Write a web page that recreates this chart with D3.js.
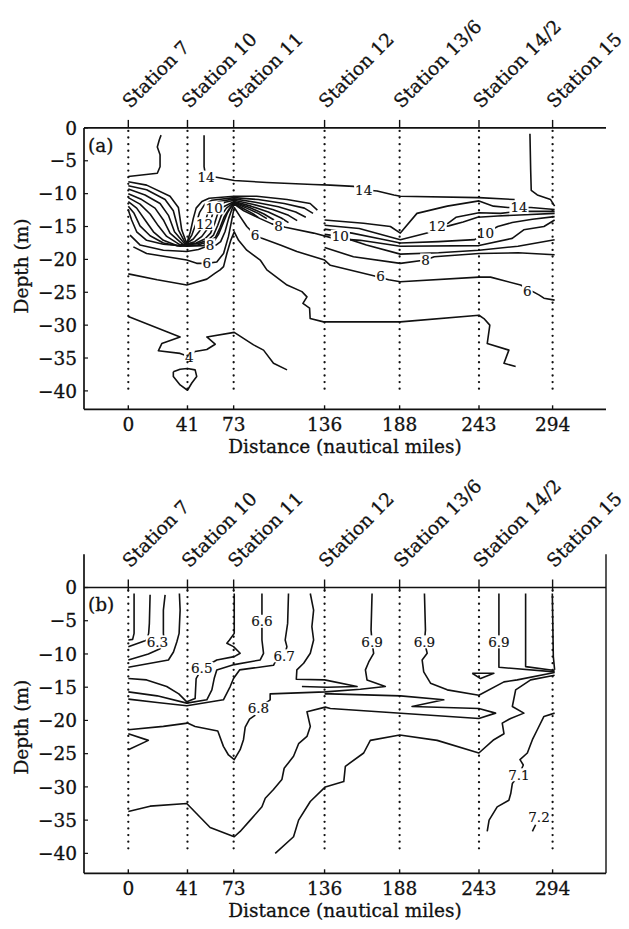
<!DOCTYPE html>
<html lang="en">
<head>
<meta charset="utf-8">
<script src="https://d3js.org/d3.v7.min.js"></script>
<title>Temperature and pH sections</title>
<style>
  body { margin: 0; background: #fff; }
  svg text { font-family: "DejaVu Serif", "Liberation Serif", serif; fill: #111; stroke: #111; stroke-width: 0.3px; }
</style>
</head>
<body>
<div id="container"></div>
<script>
// stations along the transect
var stationNames = ["Station 7", "Station 10", "Station 11", "Station 12", "Station 13/6", "Station 14/2", "Station 15"];
var stationMiles = [0, 41, 73, 136, 188, 243, 294];
var depthTicks = [0, -5, -10, -15, -20, -25, -30, -35, -40];

// ---- panel (a): temperature contours, [distance, depth] ----
var a_top = [[22.7,-1.1],[21.5,-1.8],[20.1,-2.9],[22,-4.1],[22,-5.9],[20.1,-6.9],[0,-7.4]];
var a_14 = [[52.5,-1.1],[52.5,-5.9],[53.5,-7.2],[61,-7.5],[73.4,-8.0],[96,-8.3],[128,-8.6],[140,-8.7],[156.2,-8.9],[163,-9.4],[172.4,-9.6],[184,-10.2],[188.5,-10.4],[242.9,-10.6],[267.7,-10.9]];
var a_14r = [[278.3,-0.9],[278.8,-6.4],[279.2,-9.5],[283.4,-10.2],[292.6,-10.9],[295.4,-11.9]];
var a_w1 = [[0,-8.2],[12.7,-8.7],[28.9,-10.4],[34.7,-12.1],[37,-15.5],[40.5,-17.6],[43,-15.8],[45,-13.8],[47,-12.2],[51,-11.2],[56,-10.7],[73.4,-10.4],[89,-10.4],[110,-10.9],[126,-11.5],[131,-12.5]];
var a_w2 = [[0,-8.8],[12.7,-9.4],[25.5,-10.9],[31.2,-12.6],[34.7,-15.5],[40,-17.7],[44,-16.3],[47,-14.5],[49.5,-12.8],[53,-11.6],[58,-11.0],[73.4,-10.6],[90,-10.9],[108,-11.5],[122,-12.2],[128,-13.0]];
var a_w3 = [[0,-9.3],[11.6,-10.2],[22,-11.5],[27.8,-13.3],[32,-15.8],[39.3,-17.7],[45,-16.9],[49,-15.8],[53.2,-14.4],[55,-13.0],[58,-11.9],[63,-11.2],[73.4,-10.8],[88,-11.3],[104,-12.0],[116,-12.8],[123,-13.6]];
var a_w4 = [[0,-10.0],[9.3,-10.9],[18.5,-12.2],[24.3,-14.0],[28.9,-16.0],[38.2,-17.8],[46,-17.3],[51,-16.5],[55,-15.3],[57.5,-13.8],[59,-12.6],[62,-11.8],[67,-11.3],[73.4,-11.0],[86,-11.6],[100,-12.4],[111,-13.3],[117,-14.1]];
var a_w5 = [[0,-10.6],[8.1,-11.6],[15.1,-13.1],[20.8,-14.9],[26.6,-16.5],[35.9,-17.8],[47,-17.5],[53,-16.9],[57,-16.0],[60,-14.4],[62,-13.0],[66,-12.0],[73.4,-11.2],[85,-11.9],[97,-12.8],[106,-13.7],[111,-14.4]];
var a_w6 = [[0,-11.2],[5.8,-12.2],[11.6,-14.0],[17.4,-15.8],[24.3,-17.1],[33.6,-17.9],[48,-17.6],[55,-17.1],[59,-16.3],[62,-14.8],[64.5,-13.3],[68,-12.2],[73.4,-11.3],[84,-12.1],[94,-13.1],[101,-14.0]];
var a_w7 = [[0,-11.9],[4,-13.0],[8.1,-14.9],[15.1,-16.4],[24.3,-17.5],[35.9,-18.0],[48,-17.8],[56,-17.3],[60.5,-16.6],[63.5,-15.2],[66.5,-13.5],[70,-12.3],[73.4,-11.4],[82,-12.2],[90,-13.0],[96,-13.8]];
var a_w8 = [[0,-12.5],[2.3,-14.0],[5.8,-15.8],[12.7,-17.1],[24.3,-17.7],[40.5,-18.0],[52,-17.9],[59.5,-17.2],[62.5,-16.2],[65.5,-14.6],[68.5,-13.0],[71,-12.1],[73.4,-11.5],[80,-12.3],[86,-13.0],[90,-13.6]];
var a_8 = [[1.2,-16.3],[8.1,-17.8],[24.3,-18.6],[40.5,-18.8],[48.6,-18.5],[56.7,-17.8],[61,-17.8],[64,-17.3],[67,-15.8],[69.5,-13.8],[71.7,-12.4],[73.4,-11.6],[80,-12.6],[91.4,-13.8],[99.5,-14.6],[108.8,-15.1],[128.4,-16.0],[142.3,-16.8],[160.8,-17.1],[188.5,-18.0],[243,-17.9],[266,-16.8],[274,-15.5],[288,-15.0],[295.4,-14.0]];
var a_6 = [[3.5,-18.1],[12.7,-19.1],[40.5,-20.1],[47.4,-20.6],[54.4,-20.6],[61.3,-20.4],[66,-19.1],[69.4,-16.5],[71.7,-14.0],[73.4,-12.1],[77.5,-13.5],[82.1,-15.0],[87.9,-16.3],[92.6,-16.8],[105.3,-17.8],[116.8,-18.8],[136,-20.1],[140,-20.9],[170,-22.5],[180.4,-23.1],[188.5,-23.4],[243,-22.7],[251,-22.7],[271.8,-23.9],[284.5,-25.4],[288,-25.9],[295.4,-26.2]];
var a_5 = [[0,-22.2],[20,-23.1],[40.5,-23.9],[54.4,-23.0],[60.2,-22.1],[63.6,-21.6],[66,-21.1],[68.3,-19.1],[71,-17.1],[73.4,-15.8],[76.4,-17.1],[82.1,-18.6],[91.4,-20.1],[96,-21.6],[110,-23.9],[120.3,-24.9],[123.8,-25.7],[121,-26.7],[125.6,-27.4],[126,-29.0],[135.3,-29.5],[160.8,-29.5],[188.5,-29.5],[243,-28.5],[246.4,-29.0],[250.5,-30.0],[248.7,-32.8],[263.7,-33.8],[260.3,-35.8],[268.4,-36.3]];
var a_4 = [[0,-28.7],[35.9,-31.8],[23.2,-32.8],[20.8,-33.9],[35.9,-34.3],[42.3,-34.8],[46.3,-34.0],[54.4,-33.7],[60.2,-32.9],[54.4,-31.8],[73.4,-31.1],[86.8,-33.0],[93.7,-33.8],[100.6,-35.8],[110,-36.8]];
var a_4loop = [[31.2,-37.1],[35.9,-36.7],[40.9,-36.6],[46.3,-36.8],[47.4,-37.8],[44,-38.8],[41,-39.9],[35.9,-39.1],[31.2,-37.8],[31.2,-37.1]];
var a_r1 = [[136,-14.0],[163,-14.5],[181.6,-15.0],[188.5,-16.0],[200,-13.0],[221,-11.9],[243,-11.1],[253,-11.9],[263,-12.1],[279,-12.1],[295.4,-12.4]];
var a_r2 = [[221,-14.6],[227,-13.6],[243,-12.9],[258,-13.0],[270,-12.7],[295.4,-12.7]];
var a_r3 = [[136,-14.8],[160,-15.3],[188.5,-17.0],[207,-16.0],[214,-15.2],[222,-14.9],[232,-14.3],[242,-13.6],[256,-13.4],[275,-13.2],[295.4,-13.0]];
var a_r4 = [[136,-15.4],[155,-16.0],[175,-16.9],[188.5,-17.5],[215,-17.3],[240,-17.0],[247.5,-16.0],[256,-15.0],[266,-14.4],[280,-13.9],[295.4,-13.5]];
var a_r6 = [[136,-16.2],[146.9,-16.5],[165,-17.8],[188.5,-19.2],[215,-19.0],[243,-18.6],[270,-18.0],[295.4,-17.0]];
var a_r7 = [[136,-18.2],[156,-19.6],[188.5,-20.6],[205.9,-20.1],[212,-19.6],[243,-19.1],[270,-19.0],[295.4,-19.3]];
var linesA = [a_top, a_14, a_14r, a_w1, a_w2, a_w3, a_w4, a_w5, a_w6, a_w7, a_w8, a_8, a_6, a_5, a_4, a_4loop, a_r1, a_r2, a_r3, a_r4, a_r6, a_r7];
var labelsA = [["14",53.9,-7.5],["14",163.1,-9.4],["14",270.7,-12.1],["10",59.5,-12.2],["12",52.8,-14.6],["8",56.7,-17.8],["6",54.4,-20.6],["6",87.9,-16.3],["8",104.1,-15.0],["10",146.9,-16.5],["12",214,-15.0],["10",247.5,-16.0],["8",205.9,-20.1],["6",174.7,-22.6],["6",276.5,-24.9],["4",42.3,-34.8]];

// ---- panel (b): pH contours, [distance, depth] ----
var b_1 = [[4,-0.9],[4,-6.9],[3.0,-7.8],[0,-7.9]];
var b_2 = [[15.1,-1.1],[14.6,-5.4],[14.1,-6.9],[12.7,-7.9],[11.6,-8.0],[0,-8.9]];
var b_3 = [[25.5,-1.1],[24.3,-3.4],[24.3,-6.9],[24.8,-8.0],[22,-9.2],[13.9,-10.0],[0,-10.9]];
var b_4 = [[35.4,-0.9],[35.9,-3.4],[35.2,-6.9],[33.6,-8.2],[31.3,-9.7],[27.8,-10.9],[0,-12.0]];
var b_65 = [[0,-13.7],[12.7,-13.9],[26.6,-14.9],[35,-16.0],[40.5,-17.2],[46.3,-16.7],[47,-13.7],[50.9,-12.2],[61.3,-10.9],[73.4,-10.4],[77.5,-9.9],[72.9,-8.9],[68.3,-8.4],[70.1,-7.9],[73.4,-6.9],[73.4,-0.9]];
var b_66 = [[0,-15.7],[20,-16.3],[40.5,-17.4],[54.4,-16.9],[57.9,-15.4],[59.5,-13.7],[61.3,-12.4],[73.4,-11.6],[91.4,-10.9],[93.7,-9.9],[92.6,-7.9],[92.6,-6.4],[92.6,-3.4],[92.6,-0.9]];
var b_67 = [[0,-16.8],[20,-17.3],[40.5,-17.8],[65.9,-16.9],[70.6,-14.9],[72.9,-13.7],[77.1,-12.4],[100.6,-11.7],[101.8,-11.2],[108,-10.3],[109.9,-8.9],[108.7,-7.9],[110.4,-5.4],[111,-0.9]];
var b_68a = [[126.1,-0.9],[128.4,-3.4],[127.2,-5.9],[128.4,-7.9],[126.1,-9.9],[121.5,-11.4],[116.8,-12.4],[116.4,-13.8],[136,-13.9],[158.5,-14.9],[137.7,-15.0],[120.3,-14.9]];
var b_68b = [[90.2,-18.2],[98.3,-16.9],[98.3,-16.0],[136.5,-15.7],[160.8,-15.3],[178.1,-14.9],[165.4,-13.9],[164.3,-12.4],[166.6,-11.2],[170,-9.9],[168.9,-8.2],[168.2,-6.4],[168.9,-0.9]];
var b_68c = [[0,-21.4],[24.3,-20.9],[41,-20.4],[46.3,-20.9],[62,-21.6],[65.9,-23.9],[69.4,-25.2],[73.4,-25.9],[77.5,-24.4],[79.8,-22.9],[81,-21.0],[84,-19.8],[88,-19.2]];
var b_spike = [[0,-22.0],[13.9,-23.0],[0,-24.4]];
var b_70 = [[0,-33.7],[15.1,-32.9],[40.5,-32.5],[56.7,-36.1],[73.4,-37.5],[77.5,-36.7],[84.5,-35.0],[92.6,-33.0],[94.9,-31.7],[100.6,-30.4],[106.4,-28.9],[108,-27.2],[114.5,-25.4],[118,-23.5],[123.8,-22.4],[126.1,-20.9],[123.8,-18.7],[136.5,-18.0],[140,-18.2],[242.9,-19.7],[254.5,-18.9],[242.9,-18.2],[196.6,-17.9],[218.6,-16.9],[188.6,-16.3],[140,-16.0],[136,-16.0]];
var b_69a = [[205.2,-0.9],[205.9,-6.4],[205.2,-8.2],[207.1,-9.9],[203.6,-10.9],[204.7,-12.7],[209.4,-14.4],[221,-15.4],[242.9,-16.2],[260.3,-14.2],[269.5,-13.9],[295.4,-12.8]];
var b_69b = [[256.8,-0.9],[256.8,-6.4],[256.8,-8.2],[256.8,-9.9],[256.8,-12.0],[295.4,-12.7]];
var b_69c = [[275.3,-0.9],[275.3,-11.9],[295.4,-12.5]];
var b_69d = [[293.8,-0.9],[294.5,-10.4],[295.4,-12.4]];
var b_tri = [[238.3,-12.9],[253.3,-12.9],[244.1,-13.7],[238.3,-12.9]];
var b_deep = [[101.8,-40.0],[114.5,-37.5],[118,-35.0],[126.1,-32.2],[136.5,-30.0],[149.3,-29.2],[150.4,-26.9],[163.1,-24.9],[167.7,-23.0],[188.1,-22.2],[214,-23.0],[242.9,-24.9],[253.3,-22.9],[260.3,-22.0],[259.1,-20.4],[264.9,-19.7],[274.1,-18.9],[266.1,-17.9],[268.4,-15.4],[278.8,-13.9],[295.4,-13.2]];
var b_71 = [[295.4,-18.9],[288,-19.4],[283.4,-21.4],[280,-22.9],[276.5,-24.9],[271.4,-25.9],[273.7,-26.7],[270.7,-28.2],[266.1,-29.5],[265,-31.0],[263.7,-32.0],[255.6,-33.0],[250,-35.0],[248.7,-36.7]];
var b_72 = [[280,-36.7],[282.2,-35.7]];
var linesB = [b_1, b_2, b_3, b_4, b_65, b_66, b_67, b_68a, b_68b, b_68c, b_spike, b_70, b_69a, b_69b, b_69c, b_69d, b_tri, b_deep, b_71, b_72];
var labelsB = [["6.3",20.2,-8.2],["6.5",50.9,-12.2],["6.6",92.6,-5.1],["6.7",108,-10.3],["6.8",90.2,-18.2],["6.9",168.9,-8.2],["6.9",205.2,-8.2],["6.9",256.8,-8.2],["7.1",270.7,-28.2],["7.2",284.6,-34.5]];

var W = 629, H = 929;
var svg = d3.select("#container").append("svg")
    .attr("width", W).attr("height", H);

var x = d3.scaleLinear().domain([-30.7, 331]).range([84, 606]);

function drawPanel(opt) {
    var y = d3.scaleLinear().domain([0, opt.bottom]).range([opt.y0, opt.y1]);
    var g = svg.append("g");
    var left = x.range()[0], right = x.range()[1];

    // contour lines
    var line = d3.line().x(function(d) { return x(d[0]); }).y(function(d) { return y(d[1]); });
    g.selectAll(".ct").data(opt.lines).enter().append("path")
        .attr("d", line)
        .attr("fill", "none").attr("stroke", "#111")
        .attr("stroke-width", 1.6).attr("stroke-linejoin", "round");

    // contour labels with white gaps
    var lab = g.selectAll(".lab").data(opt.labels).enter().append("g");
    lab.append("rect");
    lab.append("text")
        .attr("x", function(d) { return x(d[1]); })
        .attr("y", function(d) { return y(d[2]); })
        .attr("dy", "0.36em")
        .attr("text-anchor", "middle")
        .style("font-size", "13.5px")
        .style("stroke-width", "0.15px")
        .text(function(d) { return d[0]; });
    lab.each(function() {
        var t = d3.select(this).select("text").node().getBBox();
        d3.select(this).select("rect")
            .attr("x", t.x - 1).attr("y", t.y + 1.5)
            .attr("width", t.width + 2).attr("height", t.height - 3)
            .attr("fill", "#fff");
    });

    // dotted station lines
    g.selectAll(".st").data(stationMiles).enter().append("line")
        .attr("x1", function(d) { return x(d); }).attr("x2", function(d) { return x(d); })
        .attr("y1", y(0) + 3).attr("y2", y(-40))
        .attr("stroke", "#111").attr("stroke-width", 2.3)
        .attr("stroke-linecap", "round").attr("stroke-dasharray", "0.01 6.6");

    // frame: zero line, left axis, bottom axis
    g.append("line").attr("x1", left).attr("x2", right).attr("y1", y(0)).attr("y2", y(0))
        .attr("stroke", "#111").attr("stroke-width", 1.7);
    g.append("line").attr("x1", left).attr("x2", left).attr("y1", y(opt.top)).attr("y2", y(opt.bottom))
        .attr("stroke", "#111").attr("stroke-width", 1.7);
    g.append("line").attr("x1", left).attr("x2", right).attr("y1", y(opt.bottom)).attr("y2", y(opt.bottom))
        .attr("stroke", "#111").attr("stroke-width", 1.7);
    if (opt.rightLine) {
        g.append("line").attr("x1", right).attr("x2", right).attr("y1", y(opt.top)).attr("y2", y(opt.bottom))
            .attr("stroke", "#111").attr("stroke-width", 1.4);
    }

    // y axis ticks and labels
    g.selectAll(".yt").data(depthTicks).enter().append("line")
        .attr("x1", left).attr("x2", left + 4)
        .attr("y1", function(d) { return y(d); }).attr("y2", function(d) { return y(d); })
        .attr("stroke", "#111").attr("stroke-width", 1.2);
    g.selectAll(".yl").data(depthTicks).enter().append("text")
        .attr("x", left - 7).attr("y", function(d) { return y(d); })
        .attr("dy", "0.36em").attr("text-anchor", "end")
        .style("font-size", "18.5px")
        .text(function(d) { return d === 0 ? "0" : "\u2212" + Math.abs(d); });

    // station ticks on zero line and bottom
    g.selectAll(".tt").data(stationMiles).enter().append("line")
        .attr("x1", function(d) { return x(d); }).attr("x2", function(d) { return x(d); })
        .attr("y1", y(0) - 8).attr("y2", y(0) + opt.tickDown)
        .attr("stroke", "#111").attr("stroke-width", 1.4);
    g.selectAll(".bt").data(stationMiles).enter().append("line")
        .attr("x1", function(d) { return x(d); }).attr("x2", function(d) { return x(d); })
        .attr("y1", y(opt.bottom) - 4).attr("y2", y(opt.bottom))
        .attr("stroke", "#111").attr("stroke-width", 1.4);

    // x tick labels
    g.selectAll(".xl").data(stationMiles).enter().append("text")
        .attr("x", function(d) { return x(d); }).attr("y", y(opt.bottom) + 22)
        .attr("text-anchor", "middle").style("font-size", "18.5px")
        .text(function(d) { return d; });
    g.append("text")
        .attr("x", (left + right) / 2).attr("y", y(opt.bottom) + 44)
        .attr("text-anchor", "middle").style("font-size", "18.5px")
        .text("Distance (nautical miles)");

    // station names, rotated
    g.selectAll(".sn").data(stationNames).enter().append("text")
        .attr("transform", function(d, i) {
            return "translate(" + (x(stationMiles[i]) + 2) + "," + (y(0) - 19) + ") rotate(-45)";
        })
        .style("font-size", "18.5px")
        .text(function(d) { return d; });

    // y axis title and panel letter
    g.append("text")
        .attr("transform", "translate(28," + y(-21) + ") rotate(-90)")
        .attr("text-anchor", "middle").style("font-size", "18.5px")
        .text("Depth (m)");
    g.append("text")
        .attr("x", 88).attr("y", y(-2.6))
        .attr("dy", "0.36em").style("font-size", "18.5px")
        .text(opt.letter);
}

drawPanel({ y0: 127.9, y1: 409.3, bottom: -42.8, top: 0, lines: linesA, labels: labelsA,
            letter: "(a)", rightLine: false, tickDown: 0 });
drawPanel({ y0: 587.5, y1: 873.3, bottom: -43, top: 5, lines: linesB, labels: labelsB,
            letter: "(b)", rightLine: true, tickDown: 4 });
</script>
</body>
</html>
